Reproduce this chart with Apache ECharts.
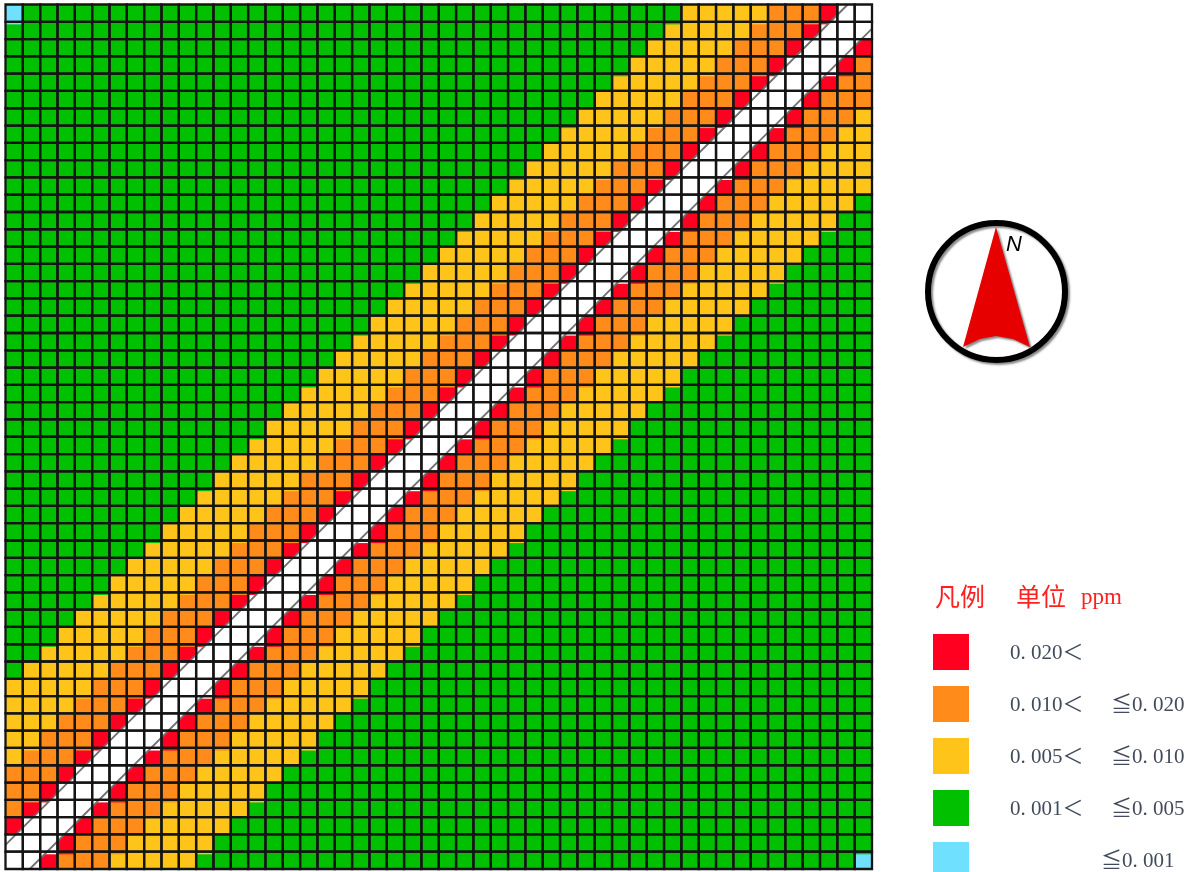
<!DOCTYPE html>
<html>
<head>
<meta charset="utf-8">
<title>濃度分布</title>
<style>
  html, body { margin: 0; padding: 0; background: #fff; overflow: hidden; }
  #chart { width: 1196px; height: 872px; }
</style>
<script src="https://cdn.jsdelivr.net/npm/echarts@6/dist/echarts.min.js"></script>
</head>
<body>
<div id="chart"></div>
<script>
// 50 x 50 mesh, top row first. Each row is a run of class code + cell count.
const meshRows = [
  "B1 G38 Y5 O3 R1 W2",
  "G38 Y5 O3 R1 W3",
  "G37 Y5 O3 R1 W3 R1",
  "G36 Y5 O3 R1 W3 R1 O1",
  "G35 Y5 O3 R1 W3 R1 O2",
  "G34 Y5 O3 R1 W3 R1 O3",
  "G33 Y5 O3 R1 W3 R1 O3 Y1",
  "G32 Y5 O3 R1 W3 R1 O3 Y2",
  "G31 Y5 O3 R1 W3 R1 O3 Y3",
  "G30 Y5 O3 R1 W3 R1 O3 Y4",
  "G29 Y5 O3 R1 W3 R1 O3 Y5",
  "G28 Y5 O3 R1 W3 R1 O3 Y5 G1",
  "G27 Y5 O3 R1 W3 R1 O3 Y5 G2",
  "G26 Y5 O3 R1 W3 R1 O3 Y5 G3",
  "G25 Y5 O3 R1 W3 R1 O3 Y5 G4",
  "G24 Y5 O3 R1 W3 R1 O3 Y5 G5",
  "G23 Y5 O3 R1 W3 R1 O3 Y5 G6",
  "G22 Y5 O3 R1 W3 R1 O3 Y5 G7",
  "G21 Y5 O3 R1 W3 R1 O3 Y5 G8",
  "G20 Y5 O3 R1 W3 R1 O3 Y5 G9",
  "G19 Y5 O3 R1 W3 R1 O3 Y5 G10",
  "G18 Y5 O3 R1 W3 R1 O3 Y5 G11",
  "G17 Y5 O3 R1 W3 R1 O3 Y5 G12",
  "G16 Y5 O3 R1 W3 R1 O3 Y5 G13",
  "G15 Y5 O3 R1 W3 R1 O3 Y5 G14",
  "G14 Y5 O3 R1 W3 R1 O3 Y5 G15",
  "G13 Y5 O3 R1 W3 R1 O3 Y5 G16",
  "G12 Y5 O3 R1 W3 R1 O3 Y5 G17",
  "G11 Y5 O3 R1 W3 R1 O3 Y5 G18",
  "G10 Y5 O3 R1 W3 R1 O3 Y5 G19",
  "G9 Y5 O3 R1 W3 R1 O3 Y5 G20",
  "G8 Y5 O3 R1 W3 R1 O3 Y5 G21",
  "G7 Y5 O3 R1 W3 R1 O3 Y5 G22",
  "G6 Y5 O3 R1 W3 R1 O3 Y5 G23",
  "G5 Y5 O3 R1 W3 R1 O3 Y5 G24",
  "G4 Y5 O3 R1 W3 R1 O3 Y5 G25",
  "G3 Y5 O3 R1 W3 R1 O3 Y5 G26",
  "G2 Y5 O3 R1 W3 R1 O3 Y5 G27",
  "G1 Y5 O3 R1 W3 R1 O3 Y5 G28",
  "Y5 O3 R1 W3 R1 O3 Y5 G29",
  "Y4 O3 R1 W3 R1 O3 Y5 G30",
  "Y3 O3 R1 W3 R1 O3 Y5 G31",
  "Y2 O3 R1 W3 R1 O3 Y5 G32",
  "Y1 O3 R1 W3 R1 O3 Y5 G33",
  "O3 R1 W3 R1 O3 Y5 G34",
  "O2 R1 W3 R1 O3 Y5 G35",
  "O1 R1 W3 R1 O3 Y5 G36",
  "R1 W3 R1 O3 Y5 G37",
  "W3 R1 O3 Y5 G38",
  "W2 R1 O3 Y5 G38 B1"
];

const classCodes = ["R", "O", "Y", "G", "B"];
const classColors = ["#ff0020", "#ff8c1a", "#ffc41a", "#00c000", "#70e0ff"];
const legendLow = ["0. 020＜", "0. 010＜", "0. 005＜", "0. 001＜", ""];
const legendHigh = ["", "≦0. 020", "≦0. 010", "≦0. 005", "≦0. 001"];

// road corridor, given as x + y of the mesh
const roadEdges = [48.6, 51.4];
const roadBand = [[48.6, 51.4]];

const LABEL_FONT = '"Liberation Serif", "Noto Sans CJK JP", serif';
const LABEL_COLOR = "#414b5c";
const cells = {};
meshRows.forEach((row, y) => {
  let x = 0;
  row.split(" ").forEach((run) => {
    const code = run[0];
    const count = Number(run.slice(1));
    for (let i = 0; i < count; i++) {
      (cells[code] = cells[code] || []).push([x, y]);
      x++;
    }
  });
});

function cellShape(api, extra) {
  const a = api.coord([api.value(0), api.value(1)]);
  const b = api.coord([api.value(0) + 1, api.value(1) + 1 + (extra || 0)]);
  return { x: a[0], y: a[1], width: b[0] - a[0], height: b[1] - a[1] };
}

function cellSeries(name, data, color) {
  return {
    name,
    type: "custom",
    coordinateSystem: "cartesian2d",
    data,
    z: 2,
    silent: true,
    itemStyle: { color },
    renderItem: (_, api) => {
      // the fill sits slightly off the mesh: every third row bleeds under the next line
      const bleed = api.value(1) % 3 === 0 && api.value(1) < 49;
      return {
        type: "rect",
        z2: bleed ? 1 : 0,
        shape: cellShape(api, bleed ? 0.15 : 0),
        style: { fill: color }
      };
    }
  };
}

const chart = echarts.init(document.getElementById("chart"), null, { renderer: "canvas" });

chart.setOption({
  animation: false,
  backgroundColor: "#ffffff",
  grid: { left: 5.5, right: 324, top: 4.5, bottom: 3, containLabel: false },
  xAxis: { type: "value", min: 0, max: 50, show: false },
  yAxis: { type: "value", min: 0, max: 50, inverse: true, show: false },
  legend: {
    orient: "vertical",
    left: 933,
    top: 634,
    height: 300,
    padding: 0,
    itemWidth: 36,
    itemHeight: 36,
    itemGap: 16,
    selectedMode: false,
    icon: "rect",
    data: classCodes.map((_, i) => legendLow[i] + legendHigh[i]),
    formatter: (name) => {
      const i = classCodes.findIndex((_, k) => legendLow[k] + legendHigh[k] === name);
      const gap = i === 4 ? "{pad2|}" : "{pad|}";
      return gap + (legendLow[i] ? "{low|" + legendLow[i] + "}" : "") + (legendHigh[i] ? "{high|" + legendHigh[i] + "}" : "");
    },
    textStyle: {
      rich: {
        pad: { width: 36 },
        pad2: { width: 127 },
        low: { width: 101, fontFamily: LABEL_FONT, fontSize: 21, color: LABEL_COLOR, padding: [2, 0, 0, 0] },
        high: { fontFamily: LABEL_FONT, fontSize: 21, color: LABEL_COLOR, padding: [2, 0, 0, 0] }
      }
    }
  },
  series: [
    ...classCodes.map((code, i) => cellSeries(legendLow[i] + legendHigh[i], cells[code], classColors[i])),
    cellSeries("white", cells.W, "#ffffff"),
    {
      type: "custom",
      coordinateSystem: "cartesian2d",
      data: roadBand,
      z: 3,
      silent: true,
      clip: true,
      renderItem: (_, api) => {
        const s1 = api.value(0);
        const s2 = api.value(1);
        return {
          type: "polygon",
          shape: {
            points: [[-10, s1 + 10], [s1 + 10, -10], [s2 + 10, -10], [-10, s2 + 10]].map((p) => api.coord(p))
          },
          style: { fill: "#ffffff" }
        };
      }
    },
    ...roadEdges.map((s) => ({
      type: "line",
      data: s < 50 ? [[0, s], [s, 0]] : [[s - 50, 50], [50, s - 50]],
      z: 4,
      silent: true,
      symbol: "none",
      lineStyle: { color: "#707070", width: 1.8 }
    })),
    {
      name: "mesh",
      type: "custom",
      coordinateSystem: "cartesian2d",
      data: Object.values(cells).flat(),
      z: 5,
      silent: true,
      renderItem: (_, api) => ({
        type: "rect",
        shape: cellShape(api),
        style: { fill: "none", stroke: "#141414", lineWidth: 2.3 }
      })
    }
  ],
  graphic: [
    {
      type: "circle",
      shape: { cx: 996.5, cy: 291.5, r: 68.5 },
      style: {
        fill: "#ffffff",
        stroke: "#000000",
        lineWidth: 6,
        shadowColor: "rgba(90,90,90,0.7)",
        shadowBlur: 2,
        shadowOffsetX: 2,
        shadowOffsetY: 2
      }
    },
    {
      type: "polygon",
      shape: {
        points: [[996, 227], [1030, 347], [1013, 339], [996, 336], [980, 339], [963, 347]]
      },
      style: {
        fill: "#e60000",
        shadowColor: "rgba(90,90,90,0.7)",
        shadowBlur: 2,
        shadowOffsetX: 2,
        shadowOffsetY: 2
      }
    },
    {
      type: "text",
      x: 1006,
      y: 234,
      style: {
        text: "N",
        font: 'italic 22px "Liberation Sans", sans-serif',
        fill: "#000000",
        shadowColor: "rgba(90,90,90,0.7)",
        shadowBlur: 1,
        shadowOffsetX: 1.5,
        shadowOffsetY: 1
      }
    },
    {
      type: "text",
      x: 935,
      y: 584,
      style: { text: "凡例", font: '25px "Noto Sans CJK SC"', fill: "#ff2020" }
    },
    {
      type: "text",
      x: 1016,
      y: 584,
      style: { text: "单位", font: '25px "Noto Sans CJK SC"', fill: "#ff2020" }
    },
    {
      type: "text",
      x: 1081,
      y: 586,
      style: { text: "ppm", font: '23px "Liberation Serif"', fill: "#ff2020" }
    }
  ]
});
</script>
</body>
</html>
